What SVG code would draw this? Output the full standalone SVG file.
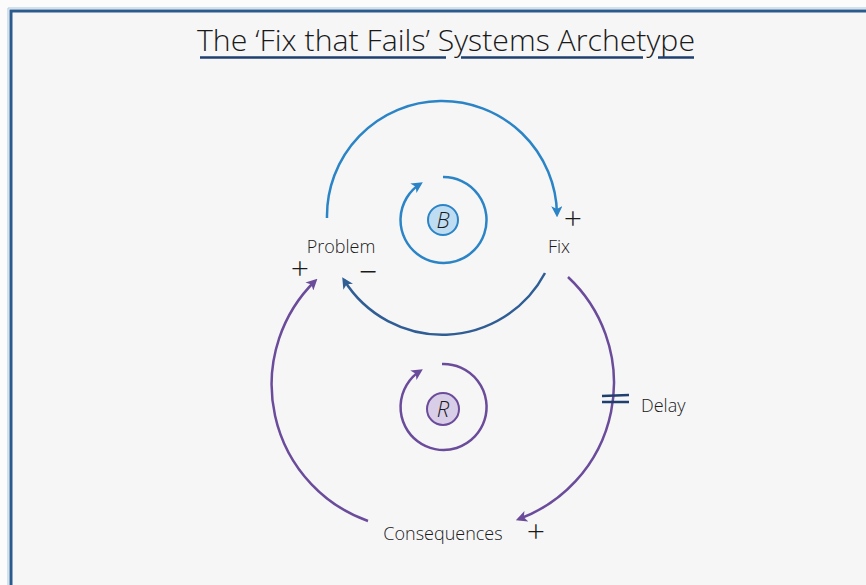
<svg xmlns="http://www.w3.org/2000/svg" width="866" height="585" viewBox="0 0 866 585">
  <style>
    text { font-family: "Open Sans", "Liberation Sans", sans-serif; font-weight: 300; fill: #1a1a1a; }
    .lbl { font-size: 18px; }
    .sign { font-size: 32px; }
    .title { font-size: 30px; }
    .badge { font-size: 22px; font-style: italic; }
    .blue { fill: none; stroke: #2b84c6; stroke-width: 2.5; }
    .navy { fill: none; stroke: #2f5d94; stroke-width: 2.5; }
    .purple { fill: none; stroke: #6b4c9a; stroke-width: 2.5; }
  </style>
  <defs>
    <marker id="ab" viewBox="0 0 10 10" refX="7" refY="5" markerWidth="4.5" markerHeight="4.5" orient="auto" markerUnits="strokeWidth">
      <path d="M0,0 L10,5 L0,10 L2.5,5 z" fill="#2b84c6"/>
    </marker>
    <marker id="an" viewBox="0 0 10 10" refX="7" refY="5" markerWidth="4.5" markerHeight="4.5" orient="auto" markerUnits="strokeWidth">
      <path d="M0,0 L10,5 L0,10 L2.5,5 z" fill="#2f5d94"/>
    </marker>
    <marker id="ap" viewBox="0 0 10 10" refX="7" refY="5" markerWidth="4.5" markerHeight="4.5" orient="auto" markerUnits="strokeWidth">
      <path d="M0,0 L10,5 L0,10 L2.5,5 z" fill="#6b4c9a"/>
    </marker>
  </defs>

  <rect x="0" y="0" width="866" height="585" fill="#fbfbfc"/>
  <rect x="11" y="11" width="900" height="700" fill="#f6f6f7" stroke="#2a5b8c" stroke-width="3"/>
  <path d="M8,600 V8 H900" fill="none" stroke="#a9c7e0" stroke-width="1"/>

  <g id="title">
    <text class="title" x="446" y="51" text-anchor="middle" textLength="498" lengthAdjust="spacingAndGlyphs">The ‘Fix that Fails’ Systems Archetype</text>
    <path d="M200,57.5 H446 M461,57.5 H643 M658,57.5 H694" fill="none" stroke="#1f3f6e" stroke-width="2.5"/>
  </g>

  <g id="connectors">
    <path class="blue" d="M327,218 A115,115 0 0 1 557,214" marker-end="url(#ab)"/>
    <path class="navy" d="M545,273 A116,116 0 0 1 344,280" marker-end="url(#an)"/>
    <path class="purple" d="M368,521 A145,145 0 0 1 315,281" marker-end="url(#ap)"/>
    <path class="purple" d="M568,277 A145,145 0 0 1 519,519" marker-end="url(#ap)"/>
    <path d="M602,396 L629,395 M602,402 L629,402" fill="none" stroke="#1f3f6e" stroke-width="2.5"/>
  </g>

  <g id="loop-b">
    <path class="blue" d="M443,177 A43,43 0 1 1 420,184" marker-end="url(#ab)"/>
    <circle cx="443" cy="220" r="15" fill="#bedcf2" stroke="#2b84c6" stroke-width="2"/>
    <text class="badge" x="443" y="228" text-anchor="middle">B</text>
  </g>

  <g id="loop-r">
    <path class="purple" d="M442,364 A43,43 0 1 1 420,371" marker-end="url(#ap)"/>
    <circle cx="443" cy="409" r="16" fill="#d9cee8" stroke="#6b4c9a" stroke-width="2"/>
    <text class="badge" x="443" y="417" text-anchor="middle">R</text>
  </g>

  <g id="node-problem">
    <text class="lbl" x="341" y="253" text-anchor="middle">Problem</text>
    <text class="sign" x="300" y="280" text-anchor="middle">+</text>
    <text class="sign" x="368" y="283" text-anchor="middle">−</text>
  </g>

  <g id="node-fix">
    <text class="lbl" x="559" y="253" text-anchor="middle">Fix</text>
    <text class="sign" x="573" y="230" text-anchor="middle">+</text>
  </g>

  <g id="node-consequences">
    <text class="lbl" x="443" y="540" text-anchor="middle">Consequences</text>
    <text class="sign" x="536" y="543" text-anchor="middle">+</text>
  </g>

  <g id="label-delay">
    <text class="lbl" x="641" y="412">Delay</text>
  </g>
</svg>
